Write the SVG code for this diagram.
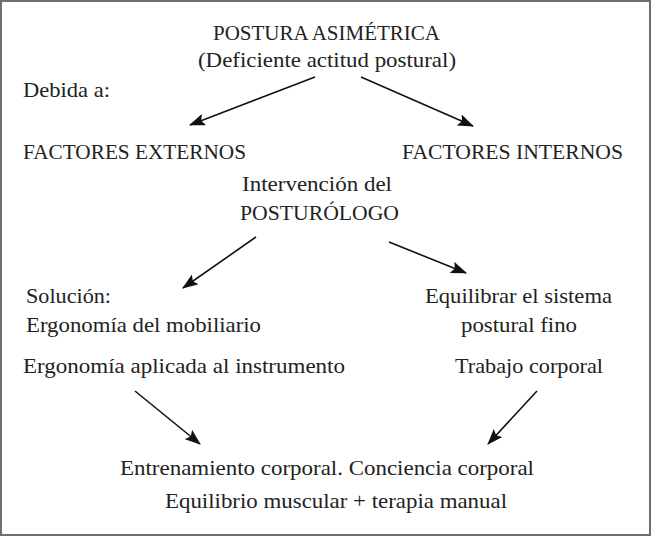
<svg xmlns="http://www.w3.org/2000/svg" width="652" height="537" viewBox="0 0 652 537">
<style>
text{font-family:"Liberation Serif","DejaVu Serif",serif;font-size:21px;fill:#222}
.c{stroke:#111;stroke-width:1.6;fill:none;marker-end:url(#ah)}
</style>
<defs>
<marker id="ah" viewBox="0 0 16 12" refX="15" refY="6" markerWidth="16" markerHeight="12" markerUnits="userSpaceOnUse" orient="auto">
<path d="M0,0 L16,6 L0,12 L3,6 Z" fill="#111"/>
</marker>
</defs>
<rect x="1" y="1" width="649" height="534" fill="#fff" stroke="#6f6f6f" stroke-width="2"/>
<g id="n-postura"><text x="213" y="40" textLength="227" lengthAdjust="spacingAndGlyphs">POSTURA ASIMÉTRICA</text><text x="198" y="67" textLength="258" lengthAdjust="spacingAndGlyphs">(Deficiente actitud postural)</text></g>
<g id="n-debida"><text x="23" y="97" textLength="87" lengthAdjust="spacingAndGlyphs">Debida a:</text></g>
<g id="n-externos"><text x="23" y="159" textLength="223" lengthAdjust="spacingAndGlyphs">FACTORES EXTERNOS</text></g>
<g id="n-internos"><text x="402" y="159" textLength="221" lengthAdjust="spacingAndGlyphs">FACTORES INTERNOS</text></g>
<g id="n-intervencion"><text x="242" y="191" textLength="150" lengthAdjust="spacingAndGlyphs">Intervención del</text><text x="240" y="220" textLength="159" lengthAdjust="spacingAndGlyphs">POSTURÓLOGO</text></g>
<g id="n-solucion"><text x="26" y="303" textLength="85" lengthAdjust="spacingAndGlyphs">Solución:</text><text x="26" y="332" textLength="235" lengthAdjust="spacingAndGlyphs">Ergonomía del mobiliario</text></g>
<g id="n-ergonomia"><text x="23" y="373" textLength="322" lengthAdjust="spacingAndGlyphs">Ergonomía aplicada al instrumento</text></g>
<g id="n-equilibrar"><text x="425" y="303" textLength="187" lengthAdjust="spacingAndGlyphs">Equilibrar el sistema</text><text x="461" y="332" textLength="116" lengthAdjust="spacingAndGlyphs">postural fino</text></g>
<g id="n-trabajo"><text x="455" y="373" textLength="148" lengthAdjust="spacingAndGlyphs">Trabajo corporal</text></g>
<g id="n-entrenamiento"><text x="120" y="475" textLength="414" lengthAdjust="spacingAndGlyphs">Entrenamiento corporal. Conciencia corporal</text><text x="165" y="508" textLength="342" lengthAdjust="spacingAndGlyphs">Equilibrio muscular + terapia manual</text></g>
<g id="connectors">
<line class="c" x1="315" y1="77" x2="190" y2="125"/>
<line class="c" x1="361" y1="77" x2="473" y2="126"/>
<line class="c" x1="256" y1="237" x2="183" y2="288"/>
<line class="c" x1="389" y1="242" x2="466" y2="273"/>
<line class="c" x1="135" y1="391" x2="200" y2="444"/>
<line class="c" x1="537" y1="391" x2="488" y2="444"/>
</g>
</svg>
